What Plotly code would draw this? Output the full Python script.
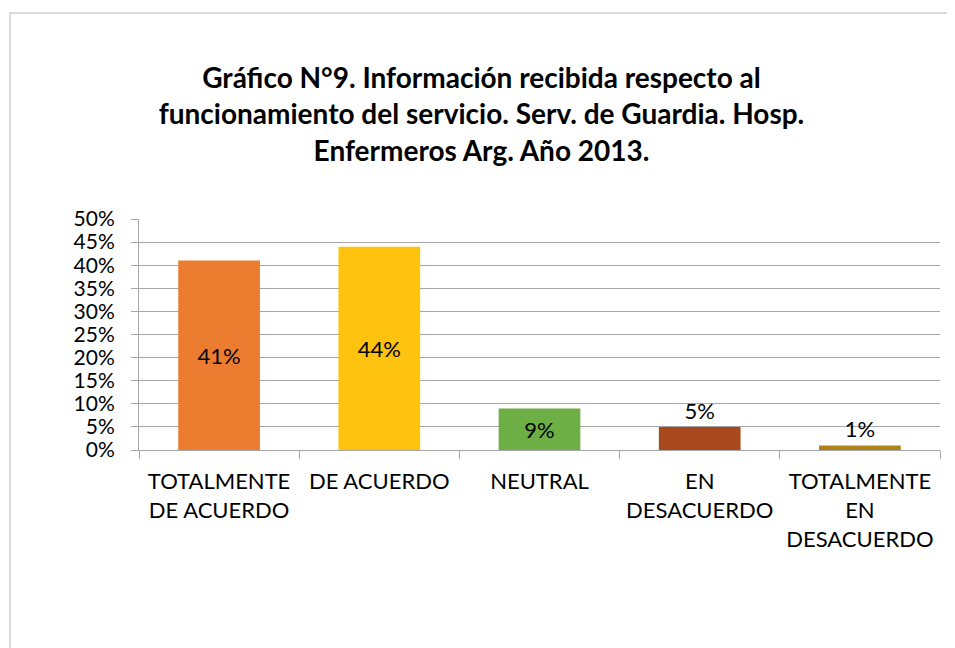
import plotly.graph_objects as go

# data
categorias = ['TOTALMENTE<br>DE ACUERDO', 'DE ACUERDO', 'NEUTRAL',
              'EN<br>DESACUERDO', 'TOTALMENTE<br>EN<br>DESACUERDO']
porcentajes = [0.41, 0.44, 0.09, 0.05, 0.01]
etiquetas = ['41%', '44%', '9%', '5%', '1%']
colores = ['#EC7C30', '#FFC20E', '#6DAE45', '#A8481C', '#B0841A']

titulo = ('<b>Gráfico N°9. Información recibida respecto al<br>'
          'funcionamiento del servicio. Serv. de Guardia. Hosp.<br>'
          'Enfermeros Arg. Año 2013.</b>')

fig = go.Figure()
fig.add_trace(go.Bar(
    x=categorias, y=porcentajes,
    marker=dict(color=colores, line=dict(width=0)),
    text=etiquetas,
    textposition=['inside', 'inside', 'inside', 'outside', 'outside'],
    insidetextanchor='middle',
    textfont=dict(size=22, color='black'),
    cliponaxis=False,
))

# page body has an 8px margin, so the figure is a little smaller
fig.update_layout(
    width=947, height=640,
    margin=dict(l=131, r=15, t=211, b=198),
    paper_bgcolor='white', plot_bgcolor='white',
    font=dict(family='Lato, Open Sans, sans-serif', size=22, color='black'),
    title=dict(text=titulo, x=0.5, xanchor='center', y=0.875, yanchor='top',
               font=dict(size=28, color='black')),
    bargap=0.49,
    showlegend=False,
    uniformtext=dict(minsize=22, mode='show'),
    shapes=[dict(type='rect', xref='paper', yref='paper',
                 x0=-0.161, x1=1.2, y0=-1.2, y1=1.892,
                 line=dict(color='#D9D9D9', width=2), layer='below')],
)

fig.update_yaxes(range=[0, 0.5], dtick=0.05, tickformat='.0%',
                 showgrid=True, gridcolor='#A6A6A6', gridwidth=1,
                 showline=True, linecolor='#A6A6A6', linewidth=1,
                 ticks='outside', ticklen=7, tickcolor='#A6A6A6',
                 ticklabelstandoff=12,
                 zeroline=False, tickfont=dict(size=21))
fig.update_xaxes(showline=True, linecolor='#A6A6A6', linewidth=1,
                 ticks='outside', ticklen=8, tickcolor='#A6A6A6',
                 tickson='boundaries', ticklabelstandoff=12,
                 tickfont=dict(size=22))

fig.write_html("out.html")
